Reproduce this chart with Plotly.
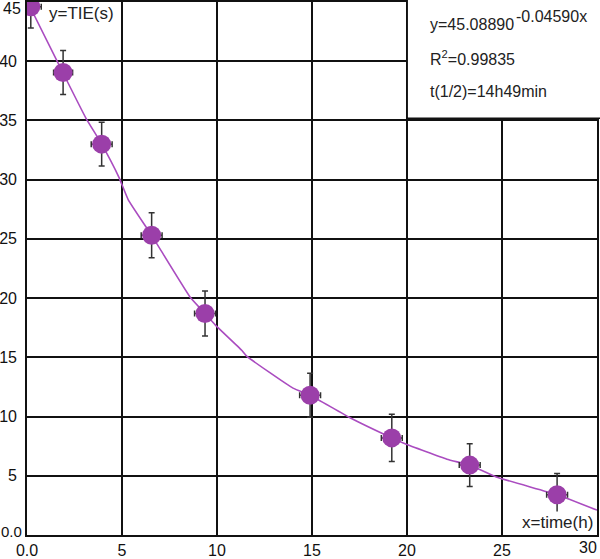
import plotly.graph_objects as go

# measured points (time in h, TIE in s)
time_h = [0.2, 1.9, 3.93, 6.56, 9.37, 14.9, 19.2, 23.3, 27.9]
tie_s = [44.6, 39.05, 33.0, 25.3, 18.7, 11.8, 8.2, 5.9, 3.4]
err_tie = [1.8, 1.85, 1.85, 1.9, 1.9, 1.85, 2.0, 1.8, 1.8]
err_time = [0.55, 0.5, 0.55, 0.55, 0.55, 0.55, 0.55, 0.55, 0.55]

# fitted curve as drawn
curve_x = [0.0, 1.9, 3.1, 3.93, 4.84, 5.33, 6.56, 8.58, 9.37, 9.93, 11.3, 11.56,
           14.0, 14.9, 17.0, 19.2, 19.9, 22.1, 23.3, 24.7, 27.9, 30.0]
curve_y = [45.1, 39.0, 35.2, 33.0, 30.2, 28.3, 25.3, 20.1, 18.7, 17.7, 15.6, 15.1,
           12.4, 11.8, 9.9, 8.2, 7.7, 6.4, 5.9, 4.9, 3.4, 2.1]

x_ticks = [0, 5, 10, 15, 20, 25, 30]
x_labels = ["0.0", "5", "10", "15", "20", "25", ""]
y_ticks = [0, 5, 10, 15, 20, 25, 30, 35, 40, 45]
y_labels = ["", "5", "10", "15", "20", "25", "30", "35", "40", ""]

font_name = "Liberation Sans, Arial, sans-serif"

fig = go.Figure()

fig.add_trace(go.Scatter(
    x=curve_x, y=curve_y, mode="lines",
    line=dict(color="#aa4cc0", width=1.6, shape="spline", smoothing=0.4),
    hoverinfo="skip", showlegend=False,
))

fig.add_trace(go.Scatter(
    x=time_h, y=tie_s, mode="markers",
    marker=dict(color="#9b3fa9", size=19, line=dict(width=0)),
    error_y=dict(type="data", array=err_tie, color="#333333", thickness=1.5, width=3),
    error_x=dict(type="data", array=err_time, color="#333333", thickness=1.5, width=3),
    showlegend=False,
))

axis_common = dict(
    showgrid=True, gridcolor="#111111", gridwidth=1.6,
    showline=True, linecolor="#111111", linewidth=1.6, mirror=True,
    zeroline=False, automargin=False,
    tickfont=dict(family=font_name, size=16, color="#111111"),
)

fig.update_xaxes(
    range=[0, 30], tickvals=x_ticks, ticktext=x_labels,
    ticks="", ticklabelstandoff=0, **axis_common,
)
fig.update_yaxes(
    range=[0, 45], tickvals=y_ticks, ticktext=y_labels,
    ticks="", ticklabelstandoff=5, **axis_common,
)

# box with the fit result
fig.add_shape(type="rect", xref="paper", yref="paper",
              x0=0.667, x1=1.01, y0=0.782, y1=1.01,
              fillcolor="white", line=dict(color="#111111", width=1.5), layer="above")

txt_font = dict(family=font_name, size=16, color="#222222")
fig.add_annotation(text="y=45.08890", xref="paper", yref="paper",
                   x=0.7035, y=0.958, xanchor="left", yanchor="middle",
                   showarrow=False, font=txt_font)
fig.add_annotation(text="-0.04590x", xref="paper", yref="paper",
                   x=0.7035, y=0.958, xanchor="left", yanchor="middle",
                   xshift=86, yshift=8, showarrow=False, font=txt_font)
fig.add_annotation(text="R<sup>2</sup>=0.99835", xref="paper", yref="paper",
                   x=0.7035, y=0.895, xanchor="left", yanchor="middle",
                   showarrow=False, font=txt_font)
fig.add_annotation(text="t(1/2)=14h49min", xref="paper", yref="paper",
                   x=0.7035, y=0.833, xanchor="left", yanchor="middle",
                   showarrow=False, font=txt_font)

fig.add_annotation(text="y=TIE(s)", xref="paper", yref="paper",
                   x=0.035, y=0.979, xanchor="left", yanchor="middle",
                   showarrow=False, font=dict(family=font_name, size=17, color="#222222"),
                   bgcolor="white")
fig.add_annotation(text="x=time(h)", xref="paper", yref="paper",
                   x=0.997, y=0.024, xanchor="right", yanchor="middle",
                   showarrow=False, font=dict(family=font_name, size=17, color="#222222"),
                   bgcolor="white")
# edge tick labels shifted inward as in the original
fig.add_annotation(text="45", xref="paper", yref="y", x=0, y=45,
                   xanchor="right", yanchor="middle", xshift=-4, yshift=-6,
                   showarrow=False, font=dict(family=font_name, size=16, color="#111111"))
fig.add_annotation(text="0.0", xref="paper", yref="y", x=0, y=0,
                   xanchor="right", yanchor="middle", xshift=-3, yshift=4,
                   showarrow=False, font=dict(family=font_name, size=15, color="#111111"))
fig.add_annotation(text="30", xref="x", yref="paper", x=30, y=0,
                   xanchor="right", yanchor="top", xshift=2, yshift=-2,
                   showarrow=False, font=dict(family=font_name, size=16, color="#111111"))

fig.update_layout(
    template="none",
    width=600, height=559,
    margin=dict(l=27, r=3, t=2, b=24),
    paper_bgcolor="white", plot_bgcolor="white",
)

fig.write_html("out.html", config={"displayModeBar": False},
               post_script="document.body.style.margin='0';")
